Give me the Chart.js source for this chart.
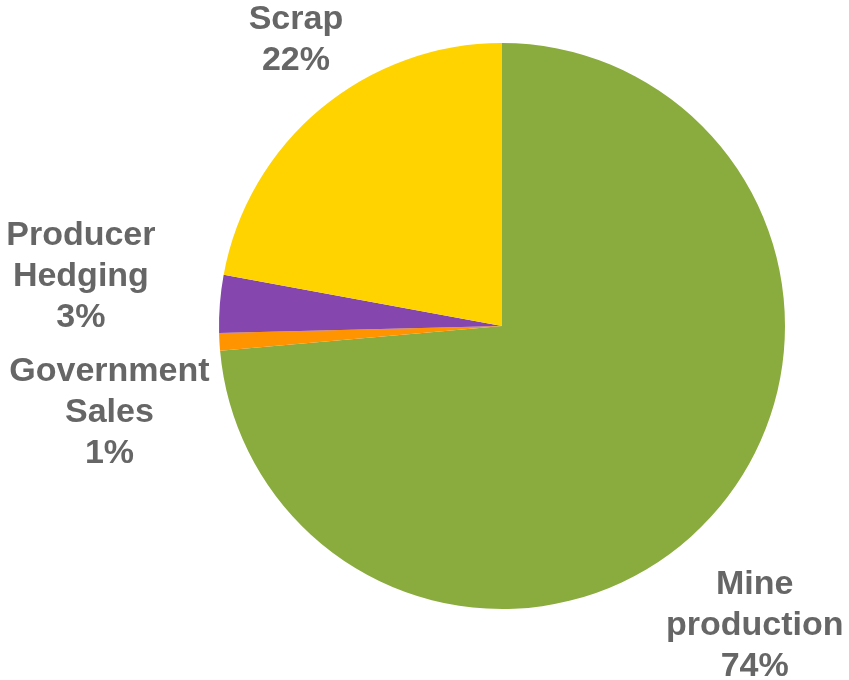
<!DOCTYPE html>
<html>
<head>
<meta charset="utf-8">
<script src="https://cdn.jsdelivr.net/npm/chart.js@4.4.0/dist/chart.umd.min.js"></script>
<style>
  html, body { margin: 0; padding: 0; background: #fff; }
  #wrap { width: 849px; height: 680px; position: relative; }
</style>
</head>
<body>
<div id="wrap"><canvas id="myChart"></canvas></div>
<script>
// Data
const categories = ['Mine production', 'Government Sales', 'Producer Hedging', 'Scrap']
const shares = [73.6, 1.0, 3.3, 22.1]
const sliceColors = ['#8aac3f', '#ff9300', '#8546ae', '#ffd300']

// label nudges from the outer edge of each slice (px)
const labelOffsets = [[44, 109], [-110, 71], [-139, -27], [-25, -68]]

const outsideLabels = {
  id: 'outsideLabels',
  afterDatasetsDraw (chart) {
    const ctx = chart.ctx
    const meta = chart.getDatasetMeta(0)
    const data = chart.data.datasets[0].data
    const total = data.reduce((a, b) => a + b, 0)
    ctx.save()
    ctx.font = 'bold 34px "Liberation Sans", Arial, sans-serif'
    ctx.fillStyle = '#666666'
    ctx.textAlign = 'center'
    ctx.textBaseline = 'middle'
    meta.data.forEach((arc, i) => {
      const p = arc.getProps(['x', 'y', 'startAngle', 'endAngle', 'outerRadius'], true)
      const mid = (p.startAngle + p.endAngle) / 2
      const ex = p.x + Math.cos(mid) * p.outerRadius
      const ey = p.y + Math.sin(mid) * p.outerRadius
      const cx = ex + labelOffsets[i][0]
      const cy = ey + labelOffsets[i][1]
      const lines = chart.data.labels[i].split(' ')
      lines.push(Math.round(data[i] / total * 100) + '%')
      const lh = 41
      lines.forEach((t, j) => {
        ctx.fillText(t, cx, cy + (j - (lines.length - 1) / 2) * lh)
      })
    })
    ctx.restore()
  }
}

const ctx = document.getElementById('myChart')
// eslint-disable-next-line no-unused-vars
const myChart = new Chart(ctx, {
  type: 'pie',
  data: {
    labels: categories,
    datasets: [{
      data: shares,
      backgroundColor: sliceColors,
      borderWidth: 0
    }]
  },
  options: {
    responsive: true,
    maintainAspectRatio: false,
    animation: false,
    layout: {
      padding: { left: 219, right: 64, top: 43, bottom: 71 }
    },
    plugins: {
      legend: { display: false },
      tooltip: { enabled: false }
    }
  },
  plugins: [outsideLabels]
})
</script>
</body>
</html>
